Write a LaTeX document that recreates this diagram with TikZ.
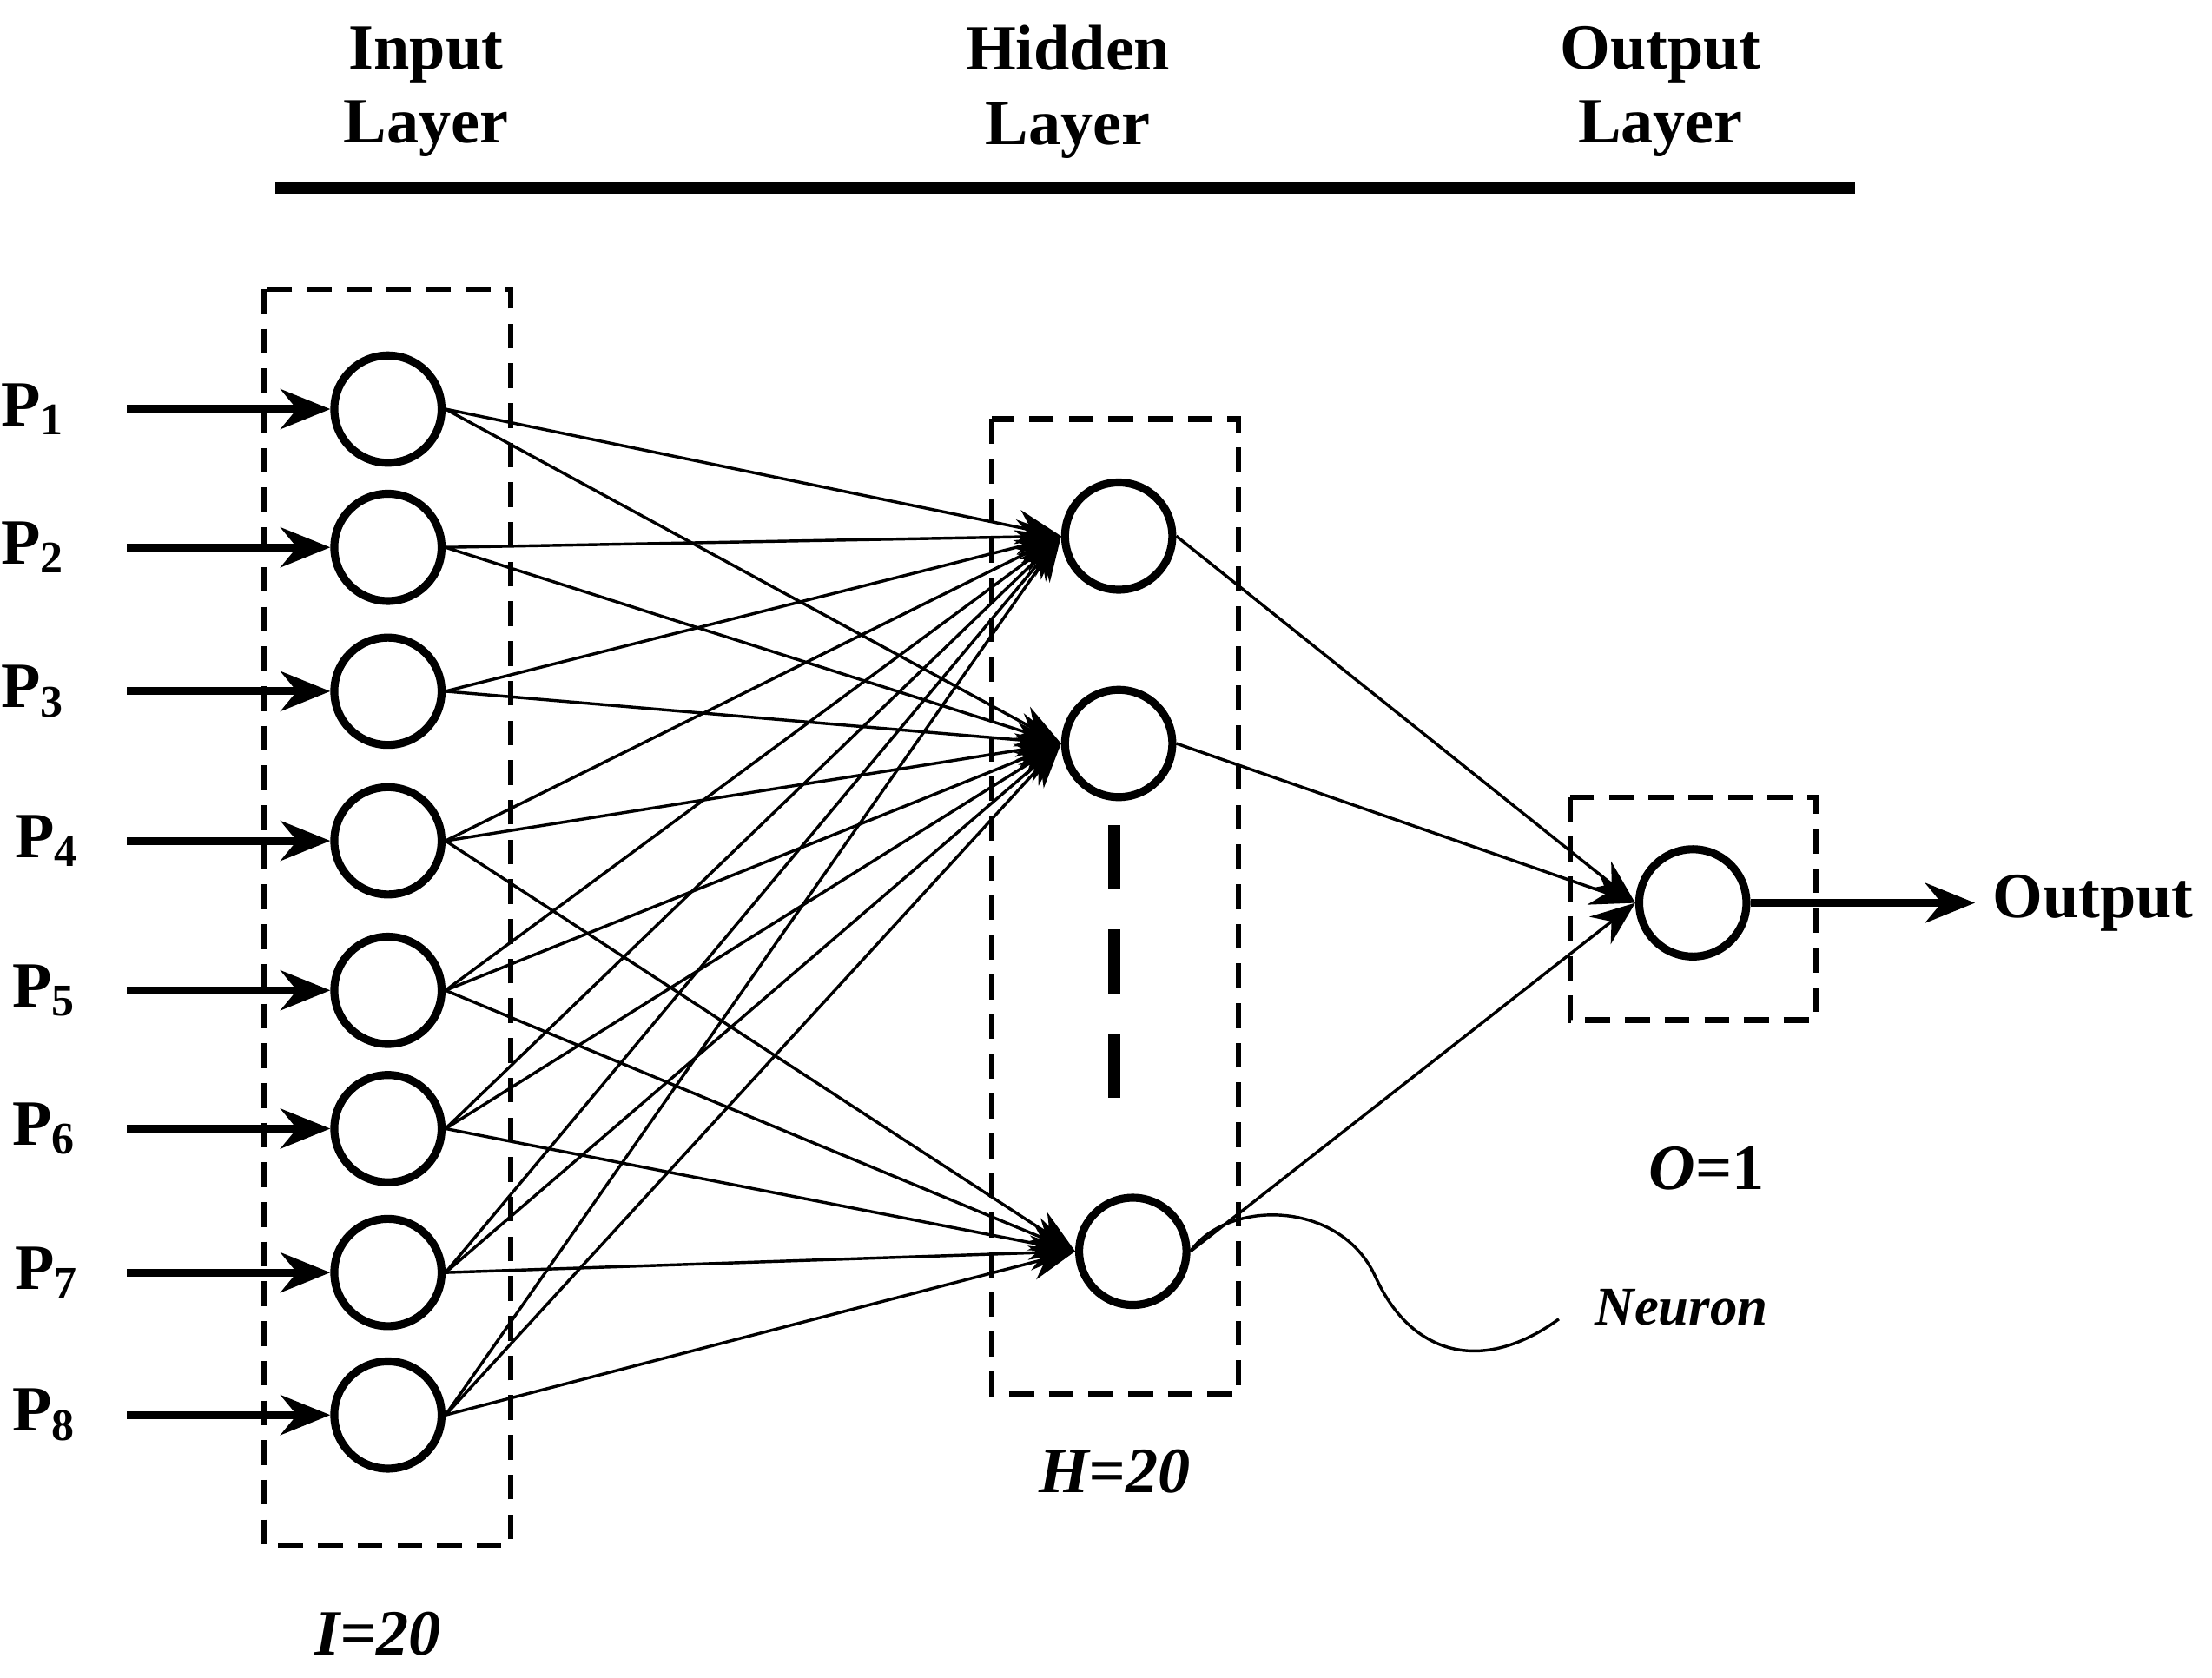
\documentclass[tikz,border=0pt]{standalone}
\usepackage{fontspec}
\setmainfont{Liberation Serif}
\usetikzlibrary{arrows.meta}
\tikzset{neuron/.style={circle, draw=black, line width=1.6pt, minimum size=0.76cm, inner sep=0pt},
    layerbox/.style={draw=black, line width=1.1pt, dash pattern=on 5pt off 3pt},
    link/.style={line width=0.6pt, -{Stealth[length=9pt,width=7pt]}},
    feed/.style={line width=1.6pt, -{Stealth[length=10pt,width=8pt]}},
    lbl/.style={font=\fontsize{13}{15}\selectfont\bfseries, align=center}}

\begin{document}
\begin{tikzpicture}[x=0.01cm, y=-0.01cm]
    \useasboundingbox (0,0) rectangle (1568,1189);

    % layer headings
    \node (hin) [lbl] at (302,65) {Input\\Layer};
    \node (hhid) [lbl] at (757,65) {Hidden\\Layer};
    \node (hout) [lbl] at (1177,65) {Output\\Layer};
    \draw [line width=2.4pt] (195,133) -- (1315,133);

    % boxes
    \draw [layerbox] (187,205) rectangle (362,1095);
    \draw [layerbox] (703,297) rectangle (878,988);
    \draw [layerbox] (1113,565) rectangle (1287,723);

    % input layer
    \foreach \i/\y/\lx in {1/290/0, 2/388/0, 3/490/0, 4/596/10, 5/702/8, 6/800/8, 7/902/10, 8/1003/8} {
        \node (in\i) [neuron] at (275,\y) {};
        \coordinate (src\i) at (90,\y);
        \node (p\i) [lbl, anchor=west, inner sep=0pt] at (\lx,\y) {P$_{\mathbf{\i}}$};
        \draw [feed] (src\i) -- (in\i);
    }

    % hidden layer
    \node (h1) [neuron] at (793,380) {};
    \node (h2) [neuron] at (793,527) {};
    \node (h3) [neuron] at (803,887) {};
    \draw [line width=2.4pt, dash pattern=on 13pt off 8pt] (790,585) -- (790,805);

    % output layer
    \node (out) [neuron] at (1200,640) {};
    \node (outlbl) [lbl, anchor=west] at (1400,640) {Output};
    \draw [feed] (out) -- (outlbl);

    \foreach \i in {1,...,8} {
        \foreach \h in {1,2} {
            \draw [link] (in\i.east) -- (h\h.west);
        }
    }
    \foreach \i in {4,...,8} {
        \draw [link] (in\i.east) -- (h3.west);
    }
    \foreach \h in {1,2,3} {
        \draw [link] (h\h.east) -- (out.west);
    }

    % labels
    \node (isize) [lbl] at (268,1158) {\itshape I=20};
    \node (hsize) [lbl] at (790,1043) {\itshape H=20};
    \node (osize) [lbl] at (1210,828) {\itshape O\upshape=1};
    \node (nlbl) [font=\fontsize{11}{13}\selectfont\bfseries\itshape] at (1192,927) {Neuron};
    \draw [line width=0.6pt] (h3.east) .. controls (870,850) and (950,850) .. (975,905)
        .. controls (1000,960) and (1050,975) .. (1105,935);
\end{tikzpicture}
\end{document}
